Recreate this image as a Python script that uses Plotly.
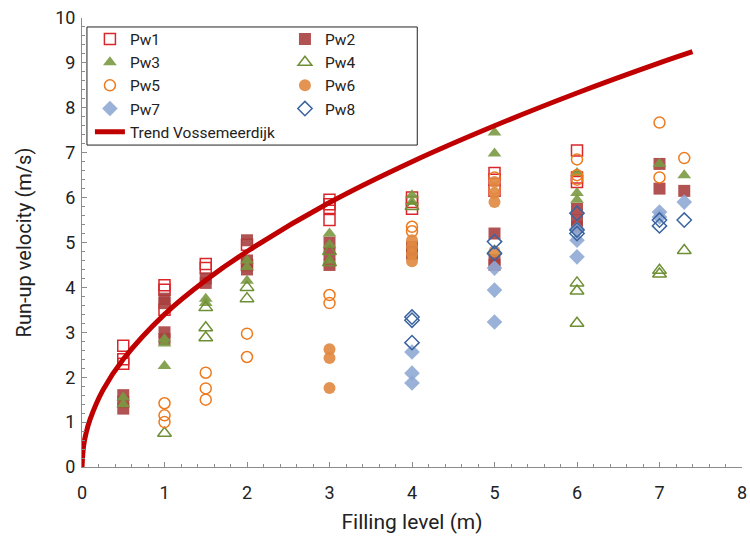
import plotly.graph_objects as go

# Measured run-up velocities (m/s) per filling level (m), per wave gauge
pw1_x = [0.5, 0.5, 0.5, 1, 1, 1, 1.5, 1.5, 2, 2, 3, 3, 3, 3, 4, 4, 4, 5, 5, 5, 6, 6, 6]
pw1_y = [2.7, 2.4, 2.3, 4.05, 3.95, 3.5, 4.52, 4.43, 4.95, 4.5, 5.95, 5.85, 5.77, 5.5,
         6.0, 5.9, 5.75, 6.55, 6.4, 6.15, 7.05, 6.45, 6.35]

pw2_x = [0.5, 0.5, 0.5, 1, 1, 1, 1, 1.5, 1.5, 2, 2, 2, 3, 3, 3, 4, 4, 5, 5, 5, 6, 6, 6, 7, 7, 7.3]
pw2_y = [1.6, 1.45, 1.3, 3.75, 3.65, 3.0, 2.85, 4.2, 4.1, 5.05, 4.6, 4.4, 5.0, 4.75, 4.5,
         4.9, 4.75, 5.2, 4.6, 4.5, 5.75, 5.5, 5.35, 6.75, 6.2, 6.15]

pw3_x = [0.5, 0.5, 1, 1, 1, 1.5, 1.5, 2, 2, 2, 3, 3, 3, 4, 4, 5, 5, 6, 6, 6, 7, 7.3]
pw3_y = [1.55, 1.4, 2.85, 2.75, 2.25, 3.75, 3.65, 4.6, 4.45, 4.15, 5.2, 4.95, 4.6,
         6.05, 5.9, 7.45, 6.98, 6.55, 6.1, 5.95, 6.75, 6.5]

pw4_x = [1, 1.5, 1.5, 1.5, 2, 2, 3, 3, 4, 5, 6, 6, 6, 7, 7, 7.3]
pw4_y = [0.75, 3.55, 3.1, 2.88, 4.0, 3.75, 4.8, 4.55, 5.8, 4.8, 4.1, 3.92, 3.2, 4.38, 4.3, 4.82]

pw5_x = [1, 1, 1, 1.5, 1.5, 1.5, 2, 2, 3, 3, 4, 4, 5, 5, 6, 6, 6, 7, 7, 7.3]
pw5_y = [1.42, 1.15, 1.0, 2.1, 1.75, 1.5, 2.97, 2.45, 3.83, 3.65, 5.35, 5.25,
         6.45, 6.2, 6.85, 6.5, 6.4, 7.67, 6.45, 6.88]

pw6_x = [3, 3, 3, 4, 4, 4, 4, 5, 5, 5, 5]
pw6_y = [2.62, 2.43, 1.76, 5.05, 4.9, 4.75, 4.58, 6.35, 6.1, 5.9, 4.8]

pw7_x = [4, 4, 4, 5, 5, 5, 6, 6, 6, 7, 7, 7.3]
pw7_y = [2.56, 2.09, 1.87, 4.43, 3.94, 3.23, 5.3, 5.05, 4.68, 5.68, 5.57, 5.9]

pw8_x = [4, 4, 4, 5, 5, 6, 6, 6, 7, 7, 7.3]
pw8_y = [3.34, 3.27, 2.77, 5.02, 4.76, 5.65, 5.28, 5.2, 5.5, 5.37, 5.5]

# Trend line for Vossemeerdijk
trend_x = [0, 0.02, 0.05, 0.1, 0.25, 0.5, 1, 1.5, 2, 3, 4, 5, 6, 7, 7.4]
trend_y = [0, 0.48, 0.76, 1.07, 1.7, 2.4, 3.4, 4.16, 4.8, 5.89, 6.8, 7.6, 8.33, 9.0, 9.25]

FONT = "Roboto"

series = [
    ("Pw1", pw1_x, pw1_y, "square-open", "#D9262B", "legend"),
    ("Pw2", pw2_x, pw2_y, "square", "#A8403F", "legend2"),
    ("Pw3", pw3_x, pw3_y, "triangle-up", "#7A9A43", "legend"),
    ("Pw4", pw4_x, pw4_y, "triangle-up-open", "#6E8F35", "legend2"),
    ("Pw5", pw5_x, pw5_y, "circle-open", "#EE7A1E", "legend"),
    ("Pw6", pw6_x, pw6_y, "circle", "#E08840", "legend2"),
    ("Pw7", pw7_x, pw7_y, "diamond", "#8FA9D4", "legend"),
    ("Pw8", pw8_x, pw8_y, "diamond-open", "#3A64A0", "legend2"),
]

fig = go.Figure()
for name, xs, ys, sym, col, leg in series:
    is_open = sym.endswith("open")
    size = 12 if ("triangle" in sym or not is_open) else 11
    fig.add_trace(go.Scatter(
        x=xs, y=ys, mode="markers", name=name, legend=leg,
        marker=dict(symbol=sym, size=size, color=col,
                    opacity=1 if is_open else 0.9,
                    line=dict(width=1.5 if is_open else 0, color=col)),
    ))

fig.add_trace(go.Scatter(
    x=trend_x, y=trend_y, mode="lines", name="Trend Vossemeerdijk", legend="legend",
    line=dict(color="#C00000", width=5, shape="spline"),
))

axis_common = dict(
    showline=True, linecolor="#8C8C8C", linewidth=1, showgrid=False, zeroline=False,
    ticks="inside", ticklen=5, tickcolor="#8C8C8C",
    minor=dict(ticks="inside", ticklen=3, tickcolor="#8C8C8C", dtick=0.2, showgrid=False),
    tickfont=dict(family=FONT, size=18, color="#222"),
    ticklabeloverflow="allow",
)

fig.update_layout(
    width=750, height=539,
    margin=dict(l=82, r=3, t=18, b=72),
    paper_bgcolor="white", plot_bgcolor="white",
    font=dict(family=FONT, color="#222"),
    xaxis=dict(range=[0, 8], dtick=1, ticklabelstandoff=9,
               title=dict(text="Filling level (m)", font=dict(family=FONT, size=21), standoff=12),
               **axis_common),
    yaxis=dict(range=[0, 10], dtick=1, ticklabelstandoff=2,
               title=dict(text="Run-up velocity (m/s)", font=dict(family=FONT, size=20), standoff=18),
               **axis_common),
    legend=dict(x=0.012, y=0.99, xanchor="left", yanchor="top",
                bgcolor="rgba(0,0,0,0)", font=dict(family=FONT, size=15.5),
                tracegroupgap=0, itemwidth=30),
    legend2=dict(x=0.3075, y=0.99, xanchor="left", yanchor="top",
                 bgcolor="rgba(0,0,0,0)", font=dict(family=FONT, size=15.5),
                 tracegroupgap=0, itemwidth=30),
    shapes=[dict(type="rect", xref="paper", yref="paper", x0=0.0075, x1=0.508,
                 y0=0.717, y1=0.98, line=dict(color="#222", width=1), fillcolor="white",
                 layer="below")],
)

fig.write_html("out.html")
